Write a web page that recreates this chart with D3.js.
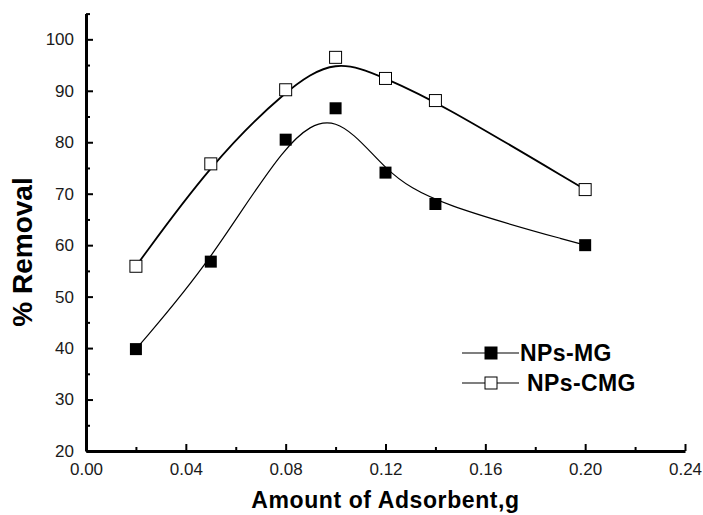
<!DOCTYPE html>
<html>
<head>
<meta charset="utf-8">
<script src="https://cdn.jsdelivr.net/npm/d3@7"></script>
<style>
  body { margin: 0; background: #fff; }
  svg { display: block; font-family: Arial, "Liberation Sans", sans-serif; }
  .axis path.domain { stroke: #000; stroke-width: 3; }
  .axis .tick line { stroke: #000; stroke-width: 2; }
  .axis .tick text { font-size: 17px; fill: #1a1a1a; }
</style>
</head>
<body>
<svg id="chart" width="703" height="515"></svg>
<script>
// data
const doses = [0.02, 0.05, 0.08, 0.10, 0.12, 0.14, 0.20];
const removalMG = [39.8, 56.8, 80.5, 86.6, 74.1, 68.0, 60.0];
const removalCMG = [55.9, 75.8, 90.2, 96.5, 92.4, 88.1, 70.8];
const seriesNames = ["NPs-MG", "NPs-CMG"];
const xTicks = [0, 0.04, 0.08, 0.12, 0.16, 0.20, 0.24];
const xMinor = [0.02, 0.06, 0.10, 0.14, 0.18, 0.22];
const yTicks = [20, 30, 40, 50, 60, 70, 80, 90, 100];
const yMinor = [25, 35, 45, 55, 65, 75, 85, 95, 105];

const svg = d3.select("#chart");
const margin = { top: 13.6, left: 86 };
const width = 599, height = 437.4;

const g = svg.append("g")
    .attr("transform", `translate(${margin.left}, ${margin.top})`);

const x = d3.scaleLinear().domain([0, 0.24]).range([0, width]);
const y = d3.scaleLinear().domain([20, 105]).range([height, 0]);

// axes: ticks point inward like the original plot
g.append("g")
    .attr("class", "axis")
    .attr("transform", `translate(0, ${height})`)
    .call(d3.axisBottom(x).tickValues(xTicks).tickSizeInner(-7).tickSizeOuter(0)
        .tickPadding(12).tickFormat(d3.format(".2f")));

g.append("g")
    .attr("class", "axis")
    .attr("transform", `translate(0, ${height})`)
    .call(d3.axisBottom(x).tickValues(xMinor).tickSizeInner(-4).tickSizeOuter(0).tickFormat(""))
    .select(".domain").remove();

g.append("g")
    .attr("class", "axis")
    .call(d3.axisLeft(y).tickValues(yTicks).tickSizeInner(-7).tickSizeOuter(0).tickPadding(12));

g.append("g")
    .attr("class", "axis")
    .call(d3.axisLeft(y).tickValues(yMinor).tickSizeInner(-4).tickSizeOuter(0).tickFormat(""))
    .select(".domain").remove();

// axis titles
svg.append("text")
    .attr("x", margin.left + width / 2)
    .attr("y", 508)
    .attr("text-anchor", "middle")
    .style("font-size", "23px")
    .style("font-weight", "bold")
    .style("letter-spacing", "0.6px")
    .text("Amount of Adsorbent,g");

svg.append("text")
    .attr("transform", "translate(32, 252) rotate(-90)")
    .attr("text-anchor", "middle")
    .style("font-size", "28px")
    .style("font-weight", "bold")
    .text("% Removal");

// smoothed curves (B-spline like Origin)
const line = d3.line()
    .x((d, i) => x(doses[i]))
    .y(d => y(d))
    .curve(d3.curveBasis);

g.append("path")
    .datum(removalCMG)
    .attr("fill", "none")
    .attr("stroke", "#000")
    .attr("stroke-width", 1.8)
    .attr("d", line);

g.append("path")
    .datum(removalMG)
    .attr("fill", "none")
    .attr("stroke", "#000")
    .attr("stroke-width", 1.2)
    .attr("d", line);

const ms = 12;
g.selectAll(".mk-cmg")
    .data(removalCMG)
    .join("rect")
    .attr("class", "mk-cmg")
    .attr("x", (d, i) => x(doses[i]) - ms / 2)
    .attr("y", d => y(d) - ms / 2)
    .attr("width", ms)
    .attr("height", ms)
    .attr("fill", "#fff")
    .attr("stroke", "#000")
    .attr("stroke-width", 1);

g.selectAll(".mk-mg")
    .data(removalMG)
    .join("rect")
    .attr("class", "mk-mg")
    .attr("x", (d, i) => x(doses[i]) - ms / 2)
    .attr("y", d => y(d) - ms / 2)
    .attr("width", ms)
    .attr("height", ms)
    .attr("fill", "#000");

// legend
const legend = svg.append("g");
const rows = [
    { name: seriesNames[0], fill: "#000", y: 353, tx: 520 },
    { name: seriesNames[1], fill: "#fff", y: 383, tx: 527 }
];
rows.forEach(r => {
    legend.append("line")
        .attr("x1", 462).attr("x2", 519)
        .attr("y1", r.y).attr("y2", r.y)
        .attr("stroke", "#000").attr("stroke-width", 1.2);
    legend.append("rect")
        .attr("x", 491 - ms / 2).attr("y", r.y - ms / 2)
        .attr("width", ms).attr("height", ms)
        .attr("fill", r.fill).attr("stroke", "#000").attr("stroke-width", 1);
    legend.append("text")
        .attr("x", r.tx).attr("y", r.y + 7.5)
        .style("font-size", "23px")
        .style("font-weight", "bold")
        .style("letter-spacing", "0.4px")
        .text(r.name);
});
</script>
</body>
</html>
